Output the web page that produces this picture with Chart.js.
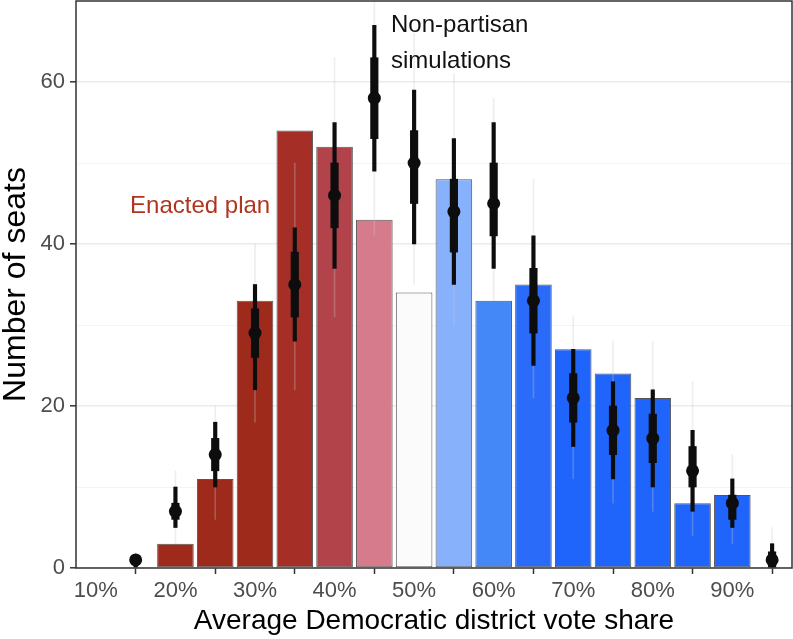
<!DOCTYPE html>
<html>
<head>
<meta charset="utf-8">
<script src="https://cdn.jsdelivr.net/npm/chart.js@4"></script>
<style>
  html, body { margin: 0; padding: 0; background: #fff; }
  #wrap { width: 793px; height: 639px; }
</style>
</head>
<body>
<div id="wrap"><canvas id="chart"></canvas></div>
<script>
// vote share bins (%), enacted plan seat counts
const BAR_X = [20, 25, 30, 35, 40, 45, 50, 55, 60, 65, 70, 75, 80, 85, 90]
const ENACTED = [3, 11, 33, 54, 52, 43, 34, 48, 33, 35, 27, 24, 21, 8, 9]

// simulation summaries per bin
const SIM_X = [15, 20, 25, 30, 35, 40, 45, 50, 55, 60, 65, 70, 75, 80, 85, 90, 95]
const SIM_MEDIAN = [1, 7, 14, 29, 35, 46, 58, 50, 44, 45, 33, 21, 17, 16, 12, 8, 1]
const SIM_50_LO = [1, 6, 12, 26, 31, 42, 53, 45, 39, 41, 29, 18, 14, 13, 10, 6, 0]
const SIM_50_HI = [1, 8, 16, 32, 39, 50, 63, 54, 48, 50, 37, 24, 20, 19, 15, 9, 2]
const SIM_90_LO = [0, 5, 10, 22, 28, 37, 49, 40, 35, 37, 25, 15, 11, 10, 7, 5, 0]
const SIM_90_HI = [1, 10, 18, 35, 42, 55, 67, 59, 53, 55, 41, 27, 23, 22, 17, 11, 3]
const SIM_MIN = [0, 3, 6, 18, 22, 31, 41, 35, 30, 33, 21, 11, 8, 7, 4, 3, 0]
const SIM_MAX = [2, 12, 20, 40, 50, 63, 70, 66, 61, 58, 48, 31, 28, 28, 23, 14, 5]

const X_TICKS = [10, 20, 30, 40, 50, 60, 70, 80, 90]
const Y_TICKS = [0, 10, 20, 30, 40, 50, 60]
const Y_LABELED = [0, 20, 40, 60]

const BAR_COLORS = [
  '#9e2a1c', '#9e2a1c', '#9e2a1c', '#a52f27', '#b3434a', '#d67b8c', '#fbfbfb',
  '#87b2fb', '#4488f8', '#2a6cf9', '#1f64fb', '#1f64fb', '#1f64fb', '#1f64fb', '#1f64fb',
]

const FONT = "'Liberation Sans', Arial, Helvetica, sans-serif"

const range = (lo, hi) => SIM_X.map((x, i) => ({ x, y: [lo[i], hi[i]] }))

// panel border + text labels
const extras = {
  id: 'extras',
  afterDatasetsDraw(chart) {
    const { ctx, chartArea: a, scales } = chart
    ctx.save()
    ctx.strokeStyle = '#333'
    ctx.lineWidth = 1.5
    ctx.strokeRect(a.left, a.top, a.right - a.left, a.bottom - a.top)

    ctx.font = `24px ${FONT}`
    ctx.textAlign = 'left'
    ctx.textBaseline = 'alphabetic'
    ctx.fillStyle = '#b0351f'
    ctx.fillText('Enacted plan', scales.x.getPixelForValue(14.3), scales.y.getPixelForValue(43.8))
    ctx.fillStyle = '#111'
    ctx.fillText('Non-partisan', scales.x.getPixelForValue(47.1), scales.y.getPixelForValue(66.2))
    ctx.fillText('simulations', scales.x.getPixelForValue(47.1), scales.y.getPixelForValue(61.7))
    ctx.restore()
  },
}

const main = () => {
  const chartData = {
    datasets: [
      {
        type: 'bar',
        label: 'Enacted plan',
        data: BAR_X.map((x, i) => ({ x, y: ENACTED[i] })),
        backgroundColor: BAR_COLORS,
        borderColor: '#555',
        borderWidth: 1,
        borderSkipped: false,
        barPercentage: 0.92,
        categoryPercentage: 1,
        grouped: false,
        order: 5,
      },
      {
        type: 'bar',
        data: range(SIM_MIN, SIM_MAX),
        backgroundColor: 'rgba(200,200,200,0.3)',
        barThickness: 1,
        grouped: false,
        order: 4,
      },
      {
        type: 'bar',
        data: range(SIM_90_LO, SIM_90_HI),
        backgroundColor: '#0d0d0d',
        barThickness: 3.5,
        grouped: false,
        order: 3,
      },
      {
        type: 'bar',
        data: range(SIM_50_LO, SIM_50_HI),
        backgroundColor: '#0d0d0d',
        barThickness: 7.5,
        grouped: false,
        order: 2,
      },
      {
        type: 'scatter',
        data: SIM_X.map((x, i) => ({ x, y: SIM_MEDIAN[i] })),
        backgroundColor: '#0d0d0d',
        borderColor: '#0d0d0d',
        pointRadius: 6.5,
        borderWidth: 0,
        order: 1,
      },
    ],
  }

  const chartConfig = {
    type: 'bar',
    data: chartData,
    plugins: [extras],
    options: {
      responsive: true,
      maintainAspectRatio: false,
      animation: false,
      layout: { autoPadding: false, padding: { top: 1, right: 1, left: 0, bottom: 0 } },
      plugins: {
        legend: { display: false },
        tooltip: { enabled: false },
      },
      scales: {
        x: {
          type: 'linear',
          min: 7.5,
          max: 97.5,
          offset: false,
          afterBuildTicks: scale => {
            scale.ticks = X_TICKS.map(value => ({ value }))
          },
          afterFit: scale => {
            scale.height = 71
            scale.paddingLeft = 0
            scale.paddingRight = 0
          },
          ticks: {
            padding: 4,
            color: '#4d4d4d',
            font: { family: FONT, size: 22 },
            callback: v => v + '%',
          },
          grid: {
            drawOnChartArea: false,
            tickLength: 6,
            tickColor: '#333',
            tickWidth: 1.5,
          },
          border: { display: false },
          title: {
            display: true,
            text: 'Average Democratic district vote share',
            color: '#000',
            font: { family: FONT, size: 28, lineHeight: 1.2 },
            padding: { top: 0, bottom: 1 },
          },
        },
        y: {
          min: 0,
          max: 70,
          afterBuildTicks: scale => {
            scale.ticks = Y_TICKS.map(value => ({ value }))
          },
          afterFit: scale => {
            scale.width = 76
            scale.paddingTop = 0
            scale.paddingBottom = 0
          },
          ticks: {
            padding: 5,
            color: '#4d4d4d',
            font: { family: FONT, size: 22 },
            callback: v => (Y_LABELED.includes(v) ? v : ''),
          },
          grid: {
            color: ctx => (Y_LABELED.includes(ctx.tick.value) ? '#ebebeb' : '#f4f4f4'),
            lineWidth: ctx => (Y_LABELED.includes(ctx.tick.value) ? 1.6 : 1),
            tickLength: 6,
            tickColor: ctx => (Y_LABELED.includes(ctx.tick.value) ? '#333' : 'rgba(0,0,0,0)'),
            tickWidth: 1.5,
          },
          border: { display: false },
          title: {
            display: true,
            text: 'Number of seats',
            color: '#000',
            font: { family: FONT, size: 32, lineHeight: 1 },
            padding: { top: 0, bottom: 0 },
          },
        },
      },
    },
  }

  new Chart(document.querySelector('#chart').getContext('2d'), chartConfig)
}

window.addEventListener('load', main)
</script>
</body>
</html>
